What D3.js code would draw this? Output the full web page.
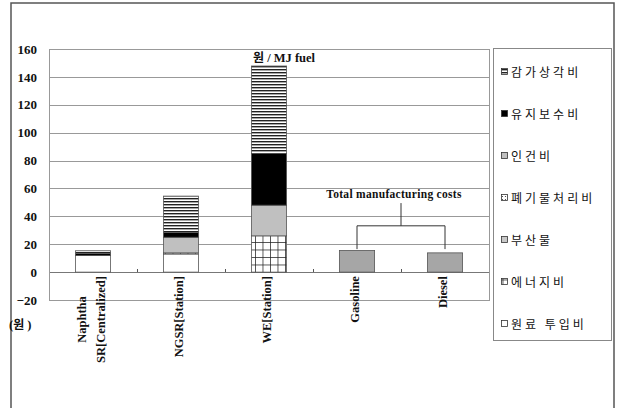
<!DOCTYPE html>
<html><head><meta charset="utf-8">
<script src="https://cdn.jsdelivr.net/npm/d3@7"></script>
<style>
html,body{margin:0;padding:0;background:#fff;}
svg{display:block;}
</style></head>
<body>
<svg id="chart" width="618" height="408"></svg>
<script>
// ---- data ----
const categories = ["Naphtha|SR[Centralized]", "NGSR[Station]", "WE[Station]", "Gasoline", "Diesel"];
const seriesNames = ["원료 투입비", "에너지비", "부산물", "폐기물처리비", "인건비", "유지보수비", "감가상각비"];
const rawMaterial   = [12.0, 13.0, 0, 0, 0];
const energy        = [0, 0.8, 26.0, 0, 0];
const byProduct     = [0, 0, 0, 0, 0];
const wasteDisposal = [0, 0, 0, 0, 0];
const labor         = [0, 11.2, 22.0, 0, 0];
const maintenance   = [1.4, 3.4, 37.0, 0, 0];
const depreciation  = [1.9, 26.1, 62.8, 0, 0];
const totalCost     = [0, 0, 0, 15.5, 13.8];
const yTicks = [-20, 0, 20, 40, 60, 80, 100, 120, 140, 160];
const legendOrder = ["감가상각비", "유지보수비", "인건비", "폐기물처리비", "부산물", "에너지비", "원료 투입비"];
const titleText = ["원", " / MJ fuel"];
const annotationText = "Total manufacturing costs";
const yUnit = ["(", "원", " )"];

const seriesValues = [rawMaterial, energy, byProduct, wasteDisposal, labor, maintenance, depreciation];

const svg = d3.select("#chart");
const W = 618, H = 408;
const plot = {left: 49, right: 489, top: 49, bottom: 300};
const serif = "'Liberation Serif','Times New Roman',serif";
const kfont = "'Noto Sans CJK KR','Noto Sans',sans-serif";

// patterns
const defs = svg.append("defs");
const pStripe = defs.append("pattern").attr("id", "stripe").attr("patternUnits", "userSpaceOnUse")
  .attr("width", 6).attr("height", 3);
pStripe.append("rect").attr("width", 6).attr("height", 3).attr("fill", "#fff");
pStripe.append("rect").attr("y", 0).attr("width", 6).attr("height", 1.4).attr("fill", "#222");
const pGrid = defs.append("pattern").attr("id", "gridp").attr("patternUnits", "userSpaceOnUse")
  .attr("width", 7.5).attr("height", 7.5).attr("x", 0).attr("y", 272);
pGrid.append("rect").attr("width", 7.5).attr("height", 7.5).attr("fill", "#fff");
pGrid.append("path").attr("d", "M0,0.4H7.5M0.4,0V7.5").attr("stroke", "#222").attr("stroke-width", 0.8);
const pDot = defs.append("pattern").attr("id", "dotp").attr("patternUnits", "userSpaceOnUse")
  .attr("width", 3).attr("height", 3);
pDot.append("rect").attr("width", 3).attr("height", 3).attr("fill", "#fff");
pDot.append("circle").attr("cx", 1.5).attr("cy", 1.5).attr("r", 0.6).attr("fill", "#333");

const fills = {
  "원료 투입비": "#ffffff",
  "에너지비": "url(#gridp)",
  "부산물": "#c8c8c8",
  "폐기물처리비": "url(#dotp)",
  "인건비": "#c0c0c0",
  "유지보수비": "#000000",
  "감가상각비": "url(#stripe)"
};

svg.append("rect").attr("width", W).attr("height", H).attr("fill", "#fff");
// outer frame
svg.append("rect").attr("x", 11).attr("y", 3).attr("width", 603).attr("height", 430)
  .attr("fill", "none").attr("stroke", "#555").attr("stroke-width", 1.5);

const x = d3.scaleBand().domain(categories).range([plot.left, plot.right])
  .paddingInner(0.6).paddingOuter(0.3);
const y = d3.scaleLinear().domain([-20, 160]).range([plot.bottom, plot.top]);

// gridlines
svg.append("g").selectAll("line").data(yTicks).join("line")
  .attr("x1", plot.left).attr("x2", plot.right)
  .attr("y1", d => Math.round(y(d)) + 0.5).attr("y2", d => Math.round(y(d)) + 0.5)
  .attr("stroke", d => d === 0 ? "#777" : "#999").attr("stroke-width", 1);
// plot border
svg.append("rect").attr("x", plot.left + 0.5).attr("y", Math.round(y(160)) + 0.5)
  .attr("width", plot.right - plot.left).attr("height", Math.round(y(-20)) - Math.round(y(160)))
  .attr("fill", "none").attr("stroke", "#999");

// y axis labels
const yAxis = d3.axisLeft(y).tickValues(yTicks).tickSize(0).tickPadding(12);
const yg = svg.append("g").attr("transform", `translate(${plot.left},0)`).call(yAxis);
yg.select(".domain").remove();
yg.selectAll("text").attr("font-family", serif).attr("font-weight", "bold")
  .attr("font-size", 13).attr("fill", "#111");

// x axis ticks (between categories, upward)
const bounds = categories.slice(1).map(c => x(c) - x.step() * x.paddingInner() / 2);
svg.append("g").selectAll("line").data(bounds).join("line")
  .attr("x1", d => Math.round(d) + 0.5).attr("x2", d => Math.round(d) + 0.5)
  .attr("y1", Math.round(y(0)) - 3).attr("y2", Math.round(y(0)))
  .attr("stroke", "#555");

// stacked data
const tableRows = categories.map((c, i) => {
  const r = {cat: c};
  seriesNames.forEach((s, k) => r[s] = seriesValues[k][i]);
  return r;
});
const stack = d3.stack().keys(seriesNames)(tableRows);
const barG = svg.append("g");
stack.forEach(layer => {
  barG.selectAll(null).data(layer.filter(d => d[1] - d[0] > 0)).join("rect")
    .attr("x", d => x(d.data.cat)).attr("width", x.bandwidth())
    .attr("y", d => y(d[1])).attr("height", d => y(d[0]) - y(d[1]))
    .attr("fill", fills[layer.key]).attr("stroke", "#555").attr("stroke-width", 0.8);
});
// total cost bars
barG.selectAll(null).data(categories.map((c, i) => ({cat: c, v: totalCost[i]})).filter(d => d.v > 0))
  .join("rect")
  .attr("x", d => x(d.cat)).attr("width", x.bandwidth())
  .attr("y", d => y(d.v)).attr("height", d => y(0) - y(d.v))
  .attr("fill", "#a6a6a6").attr("stroke", "#555").attr("stroke-width", 0.8);

// x labels (rotated)
const labelTop = y(0) + 4;
categories.forEach(c => {
  const lines = c.split("|");
  const cx = x(c) + x.bandwidth() / 2;
  const g = svg.append("g");
  const lh = 19;
  const offs = lines.map((l, i) => (i - (lines.length - 1) / 2) * lh);
  const texts = lines.map((l, i) => g.append("text")
    .attr("font-family", serif).attr("font-weight", "bold").attr("font-size", 12.5).attr("fill", "#111")
    .text(l));
  const lens = texts.map(t => t.node().getComputedTextLength());
  const maxLen = Math.max(...lens);
  texts.forEach((t, i) => {
    const cxLine = cx + offs[i] + 2;
    const centerY = labelTop + maxLen / 2;
    t.attr("text-anchor", "middle")
      .attr("transform", `translate(${cxLine},${centerY}) rotate(-90)`);
  });
});

// title
const tt = svg.append("text").attr("x", 253).attr("y", 62).attr("fill", "#111");
tt.append("tspan").attr("font-family", kfont).attr("font-weight", "bold").attr("font-size", 12).text(titleText[0]);
tt.append("tspan").attr("font-family", serif).attr("font-weight", "bold").attr("font-size", 12.5).text(titleText[1]);

// annotation bracket
const gi = categories.indexOf("Gasoline"), di = categories.indexOf("Diesel");
const gx = x(categories[gi]) + x.bandwidth() / 2, dx = x(categories[di]) + x.bandwidth() / 2;
const midx = (gx + dx) / 2;
const legY = y(16.5), barY = y(33.2), stemY = y(49.5);
svg.append("path")
  .attr("d", `M${gx},${legY}V${barY}H${dx}V${legY}M${midx},${barY}V${stemY}`)
  .attr("fill", "none").attr("stroke", "#333").attr("stroke-width", 1);
svg.append("text").attr("x", midx - 7).attr("y", y(53.5)).attr("text-anchor", "middle")
  .attr("font-family", serif).attr("font-weight", "bold").attr("font-size", 11.5).attr("fill", "#111")
  .attr("letter-spacing", 0.3)
  .text(annotationText);

// y unit
const yu = svg.append("text").attr("x", 9).attr("y", 329).attr("fill", "#111");
yu.append("tspan").attr("font-family", serif).attr("font-weight", "bold").attr("font-size", 12.5).text(yUnit[0]);
yu.append("tspan").attr("font-family", kfont).attr("font-weight", "bold").attr("font-size", 12).text(yUnit[1]);
yu.append("tspan").attr("font-family", serif).attr("font-weight", "bold").attr("font-size", 12.5).text(yUnit[2]);

// legend
svg.append("rect").attr("x", 493.5).attr("y", 48.5).attr("width", 118).attr("height", 292)
  .attr("fill", "#fff").attr("stroke", "#888");
const legY0 = 72, legStep = 42;
legendOrder.forEach((name, i) => {
  const cy = legY0 + i * legStep;
  svg.append("rect").attr("x", 501.5).attr("y", cy - 3.5).attr("width", 6).attr("height", 6)
    .attr("fill", fills[name]).attr("stroke", "#333").attr("stroke-width", 0.8);
  svg.append("text").attr("x", 511).attr("y", cy + 4.5)
    .attr("font-family", kfont).attr("font-size", 12).attr("letter-spacing", 3).attr("fill", "#111")
    .text(name);
});
</script>
</body></html>
